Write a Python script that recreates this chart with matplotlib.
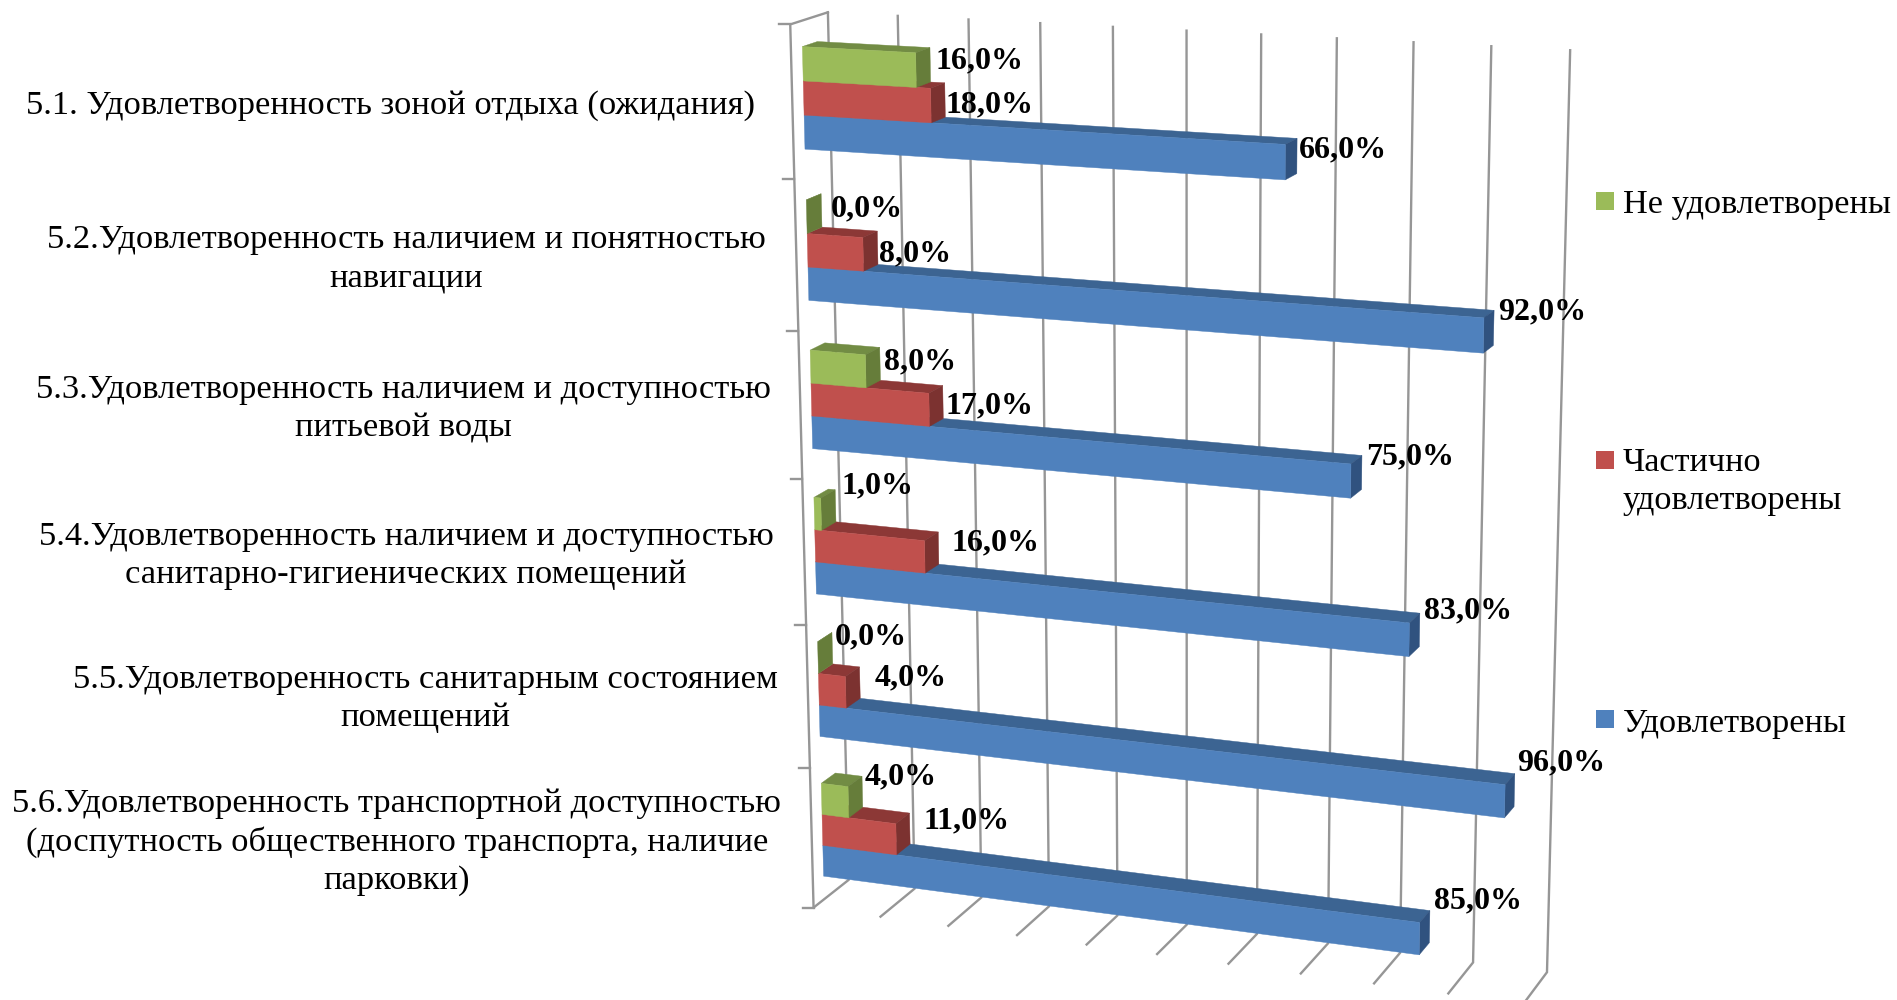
import numpy as np
import matplotlib
matplotlib.use("Agg")
import matplotlib.pyplot as plt
from matplotlib.patches import Polygon, Rectangle

# ---- data ----
categories = [
    "5.1. Удовлетворенность зоной отдыха (ожидания)",
    "5.2.Удовлетворенность наличием и понятностью\nнавигации",
    "5.3.Удовлетворенность наличием и доступностью\nпитьевой воды",
    "5.4.Удовлетворенность наличием и доступностью\nсанитарно-гигиенических помещений",
    "5.5.Удовлетворенность санитарным состоянием\nпомещений",
    "5.6.Удовлетворенность транспортной доступностью\n(доспутность общественного транспорта, наличие\nпарковки)",
]
not_satisfied = [16, 0, 8, 1, 0, 4]
partly = [18, 8, 17, 16, 4, 11]
satisfied = [66, 92, 75, 83, 96, 85]
legend_labels = ["Не удовлетворены", "Частично\nудовлетворены", "Удовлетворены"]
grid_values = [0, 10, 20, 30, 40, 50, 60, 70, 80, 90, 100]

# ---- layout ----
W, H = 1897, 1000
cat_centers = [(390, 106), (406, 259), (403, 409), (406, 556), (425, 699), (397, 842)]
label_xy = [
    [(935, 61), (946, 105), (1299, 150)],
    [(831, 209), (879.5, 254), (1498, 312)],
    [(884, 361.5), (945, 406), (1366, 457)],
    [(841, 486), (952, 543), (1424, 611)],
    [(835, 637), (875, 678), (1517, 763)],
    [(865, 776.5), (923, 821), (1434, 901)],
]
legend_y = [(201, 205), (460, 482), (719, 724)]

FACE = ["#9BBB59", "#C0504D", "#4F81BD"]
TOP = ["#728C44", "#8C3836", "#3C6492"]
SIDE = ["#667D3A", "#7C3230", "#30527F"]
GRID = "#969696"
SERIF = "Liberation Serif"

# calibration of the perspective camera: (value, category, depth) -> pixel
calib = []
for v, xt, yt in zip(grid_values,
                     [828, 897, 969, 1040, 1113, 1186, 1261, 1337, 1413, 1491, 1570],
                     [13, 16, 19, 23, 27, 31, 34, 38, 42, 46, 50]):
    calib.append((v, 0, 1, xt, yt))
for v, xb, yb in zip(grid_values,
                     [847, 913, 982, 1050, 1118, 1188, 1257, 1330, 1403, 1473, 1546],
                     [879, 888, 897, 907, 915, 925, 934, 943, 953, 963, 972]):
    calib.append((v, 6, 1, xb, yb))
for v, xf, yf in zip(grid_values[:-2],
                     [815, 881, 949, 1017, 1086, 1157, 1228, 1301, 1374],
                     [907, 917, 926, 935, 945, 954, 964, 974, 984]):
    calib.append((v, 6, 0, xf, yf))
calib += [(0, 0, 0, 790, 24), (0, 1, 0, 794, 179), (0, 2, 0, 798.6, 330), (0, 5, 0, 808, 767)]
calib += [
    (0, .1667, .3, 802, 47), (0, .6111, .3, 805, 116), (0, .8333, .3, 805.5, 149),
    (66, .6111, .3, 1286, 145), (66, .8333, .3, 1286, 179), (66, .6111, .7, 1297, 138.5), (66, .8333, .7, 1296.5, 173),
    (0, 1.6111, .3, 808, 267), (0, 1.8333, .3, 809, 301),
    (92, 1.6111, .3, 1484.6, 317), (92, 1.8333, .3, 1484.6, 353), (92, 1.6111, .7, 1494, 311), (92, 1.8333, .7, 1493.4, 347),
    (0, 4.6111, .3, 819.5, 706), (0, 4.8333, .3, 819.5, 736),
    (96, 4.6111, .3, 1504.7, 784), (96, 4.8333, .3, 1504.7, 817), (96, 4.6111, .7, 1514, 773), (96, 4.8333, .7, 1513, 808),
    (0, 5.6111, .3, 823, 846), (0, 5.8333, .3, 823.6, 876),
    (85, 5.6111, .3, 1419, 922), (85, 5.8333, .3, 1419, 954), (85, 5.6111, .7, 1429, 911), (85, 5.8333, .7, 1428, 943),
]


def fit_camera(rows):
    A, b = [], []
    for v, c, d, x, y in rows:
        X = [v / 100, c / 6, d, 1]
        A.append(X + [0, 0, 0, 0] + [-x * X[0], -x * X[1], -x * X[2]])
        b.append(x)
        A.append([0, 0, 0, 0] + X + [-y * X[0], -y * X[1], -y * X[2]])
        b.append(y)
    p = np.linalg.lstsq(np.array(A, float), np.array(b, float), rcond=None)[0]
    return np.append(p, 1.0).reshape(3, 4)


P = fit_camera(calib)


def proj(v, c, d):
    q = P @ np.array([v / 100, c / 6, d, 1.0])
    return q[0] / q[2], q[1] / q[2]


fig = plt.figure(figsize=(W / 100, H / 100), dpi=100)
ax = fig.add_axes([0, 0, 1, 1])
ax.set_xlim(0, W)
ax.set_ylim(H, 0)
ax.axis("off")

LW = 1.7
# walls and floor lines
for v in grid_values:
    a, b, c = proj(v, 0, 1), proj(v, 6, 1), proj(v, 6, 0)
    ax.plot([a[0], b[0], c[0]], [a[1], b[1], c[1]], color=GRID, lw=LW, solid_joinstyle="miter", zorder=1)
a, b, c = proj(0, 0, 1), proj(0, 0, 0), proj(0, 6, 0)
ax.plot([a[0], b[0], c[0]], [a[1], b[1], c[1]], color=GRID, lw=LW, solid_joinstyle="miter", zorder=1)
for i in range(7):
    x, y = proj(0, i, 0)
    ax.plot([x - 11, x], [y, y], color=GRID, lw=LW, zorder=1)

# bars
D0, D1 = 0.3, 0.7
GAP = 1 / 6
BAR = 2 / 9
series = [not_satisfied, partly, satisfied]


def draw_bar(val, c0, c1, k, z):
    fbl, fbr = proj(0, c1, D0), proj(val, c1, D0)
    ftl, ftr = proj(0, c0, D0), proj(val, c0, D0)
    btl, btr = proj(0, c0, D1), proj(val, c0, D1)
    bbr = proj(val, c1, D1)
    ax.add_patch(Polygon([ftl, btl, btr, ftr], fc=TOP[k], ec=TOP[k], lw=0.3, zorder=z))
    ax.add_patch(Polygon([ftr, btr, bbr, fbr], fc=SIDE[k], ec=SIDE[k], lw=0.3, zorder=z))
    if val > 0:
        ax.add_patch(Polygon([ftl, ftr, fbr, fbl], fc=FACE[k], ec=FACE[k], lw=0.3, zorder=z + 0.1))


for i in range(len(categories)):
    for k in (2, 1, 0):
        c0 = i + GAP + k * BAR
        draw_bar(series[k][i], c0, c0 + BAR, k, 2 + (2 - k) + 0.01 * i)

# value labels
for i, row in enumerate(label_xy):
    for k, (x, y) in enumerate(row):
        ax.text(x, y, f"{series[k][i]:.1f}%".replace(".", ","), ha="left", va="center",
                family=SERIF, weight="bold", fontsize=23, color="black", zorder=10)

# category labels
for lab, (x, y) in zip(categories, cat_centers):
    ax.text(x, y, lab, ha="center", va="center", family=SERIF, fontsize=24.8,
            linespacing=1.3, color="black", zorder=10)

# legend
for k, (lab, (ym, yt)) in enumerate(zip(legend_labels, legend_y)):
    ax.add_patch(Rectangle((1596, ym - 9), 18, 18, fc=FACE[k], ec="none", zorder=10))
    ax.text(1623, yt, lab, ha="left", va="center", family=SERIF, fontsize=24.7,
            linespacing=1.3, color="black", zorder=10)

fig.savefig("out.png", dpi=100)
